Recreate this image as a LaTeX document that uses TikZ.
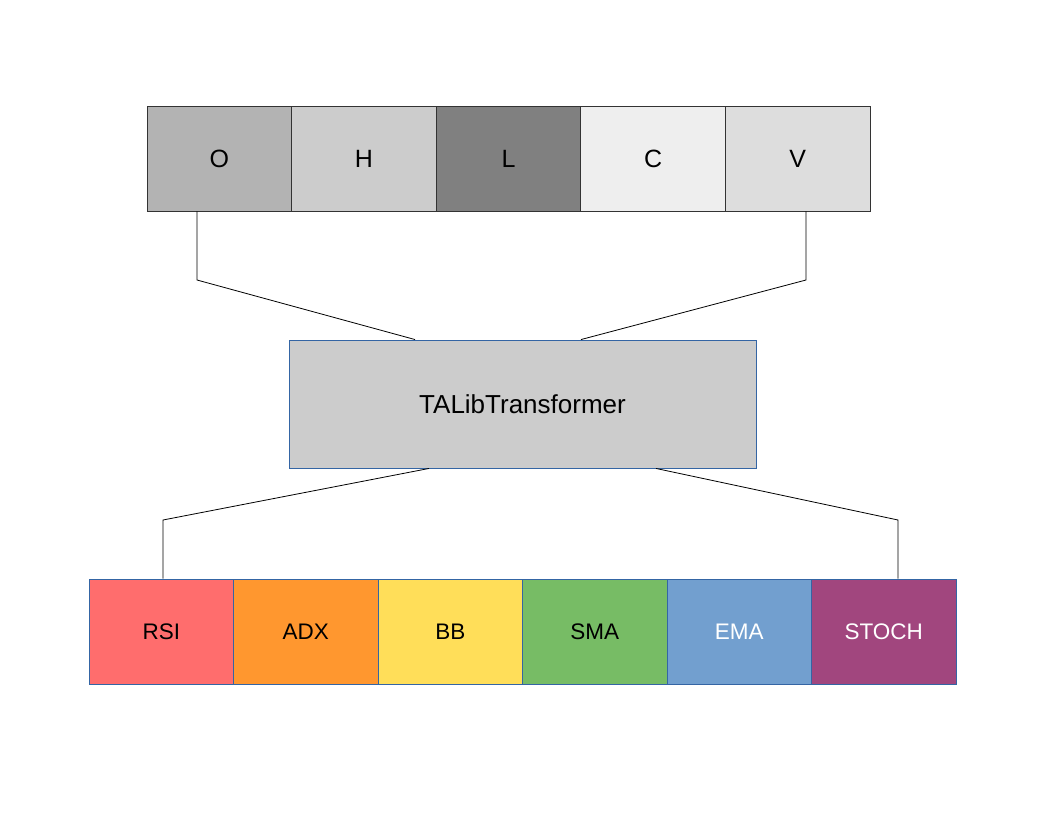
\documentclass[tikz,border=0pt]{standalone}
\usepackage{fontspec}
\setmainfont{Liberation Sans}
\definecolor{cO}{HTML}{B3B3B3}
\definecolor{cH}{HTML}{CCCCCC}
\definecolor{cL}{HTML}{808080}
\definecolor{cC}{HTML}{EEEEEE}
\definecolor{cV}{HTML}{DDDDDD}
\definecolor{cmid}{HTML}{CCCCCC}
\definecolor{bblue}{HTML}{3465A4}
\definecolor{cRSI}{HTML}{FF6D6D}
\definecolor{cADX}{HTML}{FF972F}
\definecolor{cBB}{HTML}{FFDE59}
\definecolor{cSMA}{HTML}{77BC65}
\definecolor{cEMA}{HTML}{729FCF}
\definecolor{cSTOCH}{HTML}{A1467E}
\definecolor{topborder}{HTML}{333333}
\begin{document}
\begin{tikzpicture}[x=1pt,y=-1pt,
  topcell/.style={draw=topborder,line width=0.9pt,minimum width=144.6pt,minimum height=105pt,inner sep=0pt,font=\fontsize{25}{29}\selectfont},
  botcell/.style={draw=bblue,line width=0.9pt,minimum width=144.5pt,minimum height=105pt,inner sep=0pt,font=\fontsize{22.5}{26}\selectfont},
  midbox/.style={draw=bblue,fill=cmid,line width=0.9pt,minimum width=467pt,minimum height=128pt,inner sep=0pt,font=\fontsize{26}{30}\selectfont},
  conn/.style={draw=black,line width=0.8pt}]
\useasboundingbox (0,0) rectangle (1056,816);
% top row
\node[topcell,fill=cO] (O) at (219.3,158.5) {O};
\node[topcell,fill=cH] (H) at (363.9,158.5) {H};
\node[topcell,fill=cL] (L) at (508.5,158.5) {L};
\node[topcell,fill=cC] (C) at (653.1,158.5) {C};
\node[topcell,fill=cV] (V) at (797.7,158.5) {V};
% middle
\node[midbox] (T) at (522.5,404) {TALibTransformer};
% bottom row
\node[botcell,fill=cRSI] (RSI) at (161.3,631.5) {RSI};
\node[botcell,fill=cADX] (ADX) at (305.8,631.5) {ADX};
\node[botcell,fill=cBB] (BB) at (450.3,631.5) {BB};
\node[botcell,fill=cSMA] (SMA) at (594.8,631.5) {SMA};
\node[botcell,fill=cEMA,text=white] (EMA) at (739.3,631.5) {EMA};
\node[botcell,fill=cSTOCH,text=white] (STOCH) at (883.8,631.5) {STOCH};
% connector bend points
\coordinate (b1) at (197,280);
\coordinate (b2) at (806,280);
\coordinate (m1) at (415,340);
\coordinate (m2) at (581,340);
\coordinate (m3) at (429,468);
\coordinate (m4) at (656,468);
\coordinate (b3) at (163,520);
\coordinate (b4) at (898,520);
\draw[conn] (O.south -| b1) -- (b1) -- (T.north -| m1);
\draw[conn] (V.south -| b2) -- (b2) -- (T.north -| m2);
\draw[conn] (T.south -| m3) -- (b3) -- (RSI.north -| b3);
\draw[conn] (T.south -| m4) -- (b4) -- (STOCH.north -| b4);
\end{tikzpicture}
\end{document}
